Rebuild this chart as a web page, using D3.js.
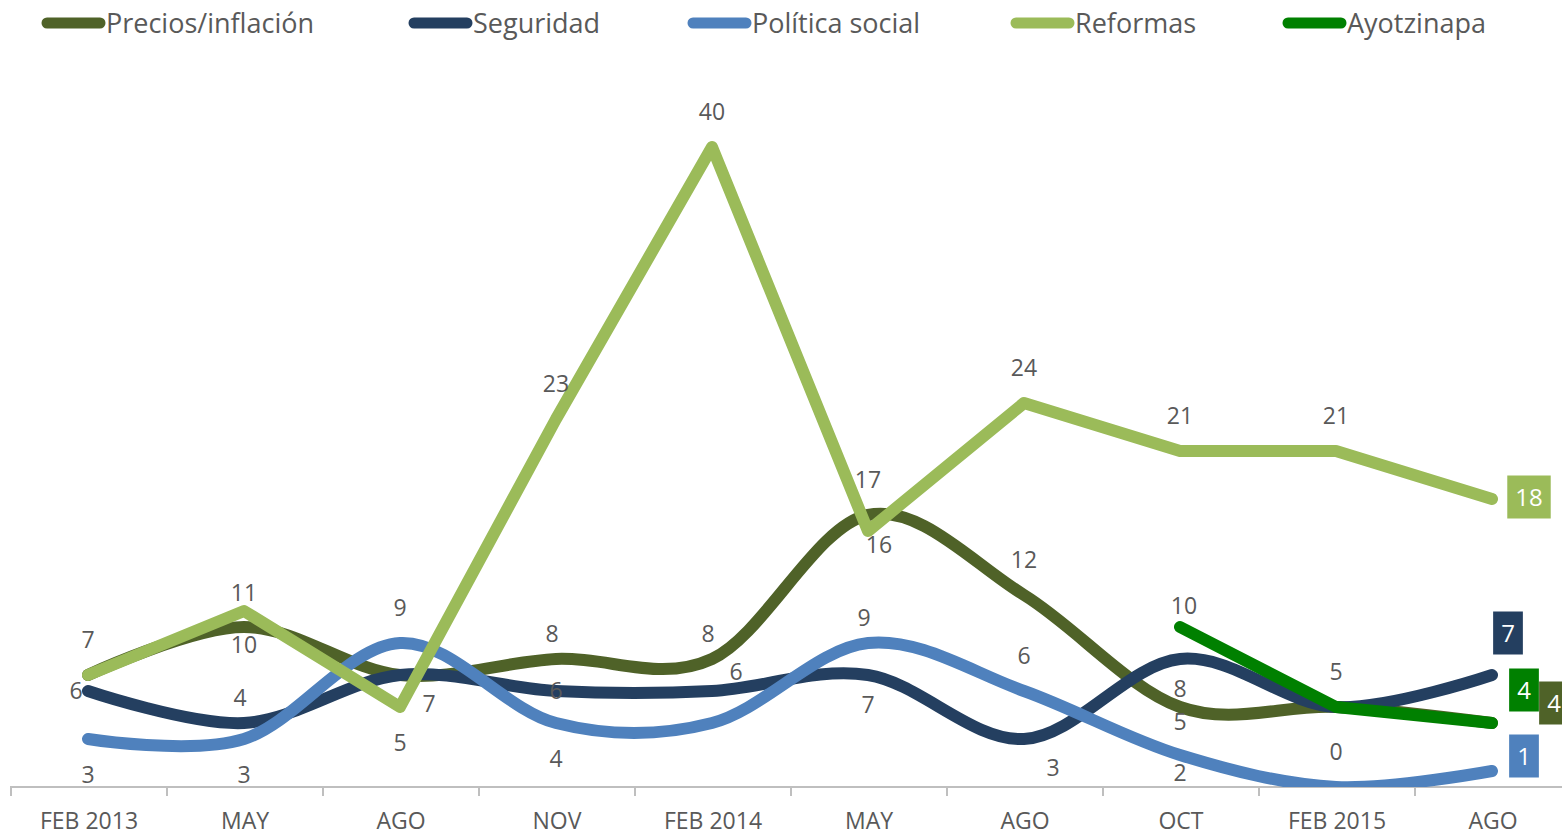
<!DOCTYPE html>
<html>
<head>
<meta charset="utf-8">
<script src="https://cdn.jsdelivr.net/npm/d3@7"></script>
<style>
  body { margin: 0; background: #fff; }
  text { font-family: 'Open Sans', sans-serif; fill: #595959; }
</style>
</head>
<body>
<div id="chart"></div>
<script>
// categories
var periods = ['FEB 2013', 'MAY', 'AGO', 'NOV', 'FEB 2014', 'MAY', 'AGO', 'OCT', 'FEB 2015', 'AGO'];

// series values
var precios = [7, 10, 7, 8, 8, 17, 12, 5, 5, 4];
var seguridad = [6, 4, 7, 6, 6, 7, 3, 8, 5, 7];
var politica = [3, 3, 9, 4, 4, 9, 6, 2, 0, 1];
var reformas = [7, 11, 5, 23, 40, 16, 24, 21, 21, 18];
var ayotzinapa = [null, null, null, null, null, null, null, 10, 5, 4];

var seriesNames = ['Precios/inflación', 'Seguridad', 'Política social', 'Reformas', 'Ayotzinapa'];

// where each data label sits (n = hidden, box = end tag)
var preciosPos = ['n', 'bm', 'br', 'tm', 'tm', 't', 't', 'bs', 'n', 'box'];
var seguridadPos = ['l', 'tm', 'n', 'c', 'tr', 'b2', 'br', 'b2', 't', 'box'];
var politicaPos = ['b', 'b', 't', 'b', 'n', 'tm', 't', 'bm', 't', 'box'];
var reformasPos = ['t', 'ts', 'b', 't', 't', 'bsr', 't', 't', 't', 'box'];
var ayotzinapaPos = ['n', 'n', 'n', 'n', 'n', 'n', 'n', 'tr2', 'n', 'box'];

var width = 1562, height = 836;

var series = [
  { name: seriesNames[0], values: precios, pos: preciosPos, color: '#4F6228', smooth: true, box: [62, -20] },
  { name: seriesNames[1], values: seguridad, pos: seguridadPos, color: '#243F60', smooth: true, box: [16, -42] },
  { name: seriesNames[2], values: politica, pos: politicaPos, color: '#4F81BD', smooth: true, box: [32, -15] },
  { name: seriesNames[3], values: reformas, pos: reformasPos, color: '#9BBB59', smooth: false, box: [37, -2] },
  { name: seriesNames[4], values: ayotzinapa, pos: ayotzinapaPos, color: '#008000', smooth: false, box: [32, -33] }
];

var offsets = {
  t: [0, -35], ts: [0, -18], tm: [-4, -25], b: [0, 36], b2: [0, 30], bm: [0, 18], l: [-12, 0], c: [0, 0],
  tr: [24, -19], tr2: [4, -21], br: [29, 29], bs: [0, 15], bsr: [11, 14]
};

var svg = d3.select('#chart').append('svg')
  .attr('width', width)
  .attr('height', height);

var x = d3.scaleBand()
  .domain(d3.range(periods.length))
  .range([10, 1570]);

var y = d3.scaleLinear()
  .domain([0, 40])
  .range([787, 147]);

function cx(i) { return x(i) + x.bandwidth() / 2; }

svg.append('clipPath').attr('id', 'plot')
  .append('rect')
  .attr('x', 0).attr('y', 50)
  .attr('width', width).attr('height', 787 - 50);

// axis
var axis = svg.append('g').attr('class', 'axis');
axis.append('line')
  .attr('x1', 10).attr('x2', width)
  .attr('y1', y(0)).attr('y2', y(0))
  .attr('stroke', '#BFBFBF').attr('stroke-width', 2);

axis.selectAll('line.tick')
  .data(d3.range(periods.length))
  .enter().append('line')
  .attr('class', 'tick')
  .attr('x1', function (d) { return x(d) + 1; })
  .attr('x2', function (d) { return x(d) + 1; })
  .attr('y1', y(0)).attr('y2', y(0) + 9)
  .attr('stroke', '#BFBFBF').attr('stroke-width', 2);

axis.selectAll('text')
  .data(periods)
  .enter().append('text')
  .attr('x', function (d, i) { return cx(i) + 1; })
  .attr('y', 829)
  .attr('text-anchor', 'middle')
  .style('font-size', '23px')
  .text(function (d) { return d; });

// lines
var lines = svg.append('g').attr('clip-path', 'url(#plot)');
series.forEach(function (s) {
  var line = d3.line()
    .defined(function (d) { return d != null; })
    .x(function (d, i) { return cx(i); })
    .y(function (d) { return y(d); })
    .curve(s.smooth ? d3.curveCardinal.tension(0) : d3.curveLinear);
  lines.append('path')
    .datum(s.values)
    .attr('d', line)
    .attr('fill', 'none')
    .attr('stroke', s.color)
    .attr('stroke-width', 12)
    .attr('stroke-linecap', 'round')
    .attr('stroke-linejoin', 'round');
});

// data labels
var labels = svg.append('g');
series.forEach(function (s) {
  s.values.forEach(function (v, i) {
    var p = s.pos[i];
    if (v == null || p === 'n') return;
    var px = cx(i), py = y(v);
    if (p === 'box') {
      var bx = px + s.box[0], by = py + s.box[1];
      var g = labels.append('g');
      var r = g.append('rect').attr('fill', s.color);
      var t = g.append('text')
        .attr('x', bx).attr('y', by)
        .attr('dy', '0.36em')
        .attr('text-anchor', 'middle')
        .style('font-size', '24px')
        .style('fill', '#fff')
        .text(v);
      var w = t.node().getComputedTextLength() + 16;
      r.attr('x', bx - w / 2).attr('y', by - 21.5)
        .attr('width', w).attr('height', 43);
      return;
    }
    var o = offsets[p];
    labels.append('text')
      .attr('x', px + o[0]).attr('y', py + o[1])
      .attr('dy', '0.36em')
      .attr('text-anchor', 'middle')
      .style('font-size', '23px')
      .text(v);
  });
});

// legend
var legendX = [42, 409, 688, 1011, 1283];
var legend = svg.append('g');
series.forEach(function (s, i) {
  legend.append('line')
    .attr('x1', legendX[i] + 5).attr('x2', legendX[i] + 58)
    .attr('y1', 23).attr('y2', 23)
    .attr('stroke', s.color)
    .attr('stroke-width', 11)
    .attr('stroke-linecap', 'round');
  legend.append('text')
    .attr('x', legendX[i] + 64)
    .attr('y', 33)
    .style('font-size', '27px')
    .text(s.name);
});
</script>
</body>
</html>
